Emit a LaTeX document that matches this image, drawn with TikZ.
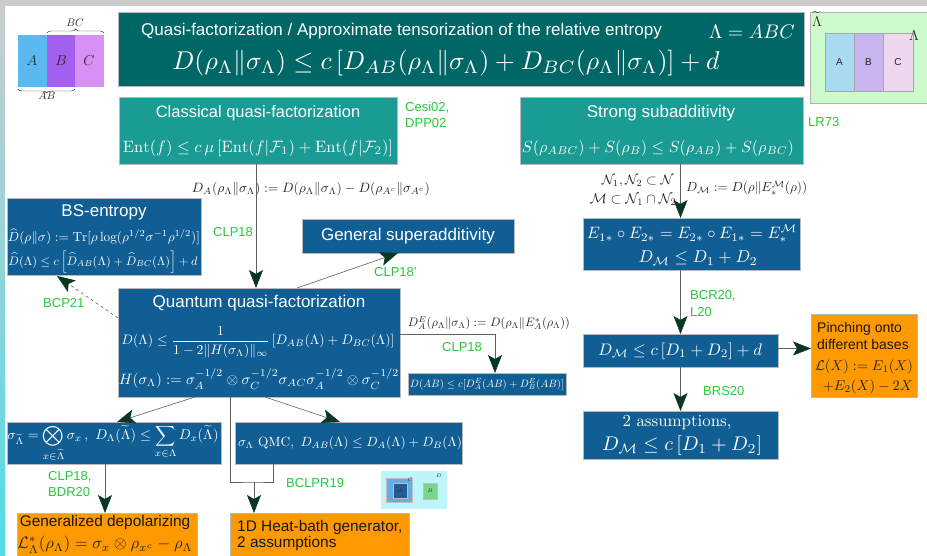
\documentclass[tikz,border=0pt]{standalone}
\usepackage{amsmath,amssymb}
\usepackage{fontspec}
\setsansfont{Liberation Sans}
\usepackage{graphicx}
\usetikzlibrary{arrows.meta,decorations.pathreplacing,calc}
\definecolor{titleteal}{RGB}{0,102,102}
\definecolor{tealtwo}{RGB}{26,156,148}
\definecolor{dblue}{RGB}{16,94,148}
\definecolor{orng}{RGB}{255,153,0}
\definecolor{lgreen}{RGB}{40,200,60}
\definecolor{ahead}{RGB}{10,55,35}
\definecolor{lnc}{RGB}{95,95,95}
\definecolor{iconA}{RGB}{90,186,240}
\definecolor{iconB}{RGB}{165,95,240}
\definecolor{iconC}{RGB}{215,145,245}
\definecolor{grbg}{RGB}{204,250,204}
\definecolor{gA}{RGB}{170,218,240}
\definecolor{gB}{RGB}{200,180,238}
\definecolor{gC}{RGB}{238,216,240}
\definecolor{framecyan}{RGB}{80,220,230}
\definecolor{smcyan}{RGB}{190,245,250}
\definecolor{smblue}{RGB}{100,175,225}
\definecolor{smdark}{RGB}{40,90,150}
\definecolor{smgreen}{RGB}{120,215,140}
\newcommand{\fw}[2]{\resizebox{#1pt}{!}{#2}}
\newcommand{\mkbox}[6]{\node[#1, minimum width={(#4)-(#2)}, minimum height={(#5)-(#3)}] (#6) at ({((#2)+(#4))/2},{((#3)+(#5))/2}) {};}
\tikzset{
  boxbase/.style={rectangle, inner sep=0pt, outer sep=0pt, draw=gray!55, line width=0.5pt},
  tealdark/.style={boxbase, fill=titleteal},
  tealbox/.style={boxbase, fill=tealtwo},
  bluebox/.style={boxbase, fill=dblue},
  orbox/.style={boxbase, fill=orng},
  wtxt/.style={text=white, inner sep=0pt, font=\sffamily\fontsize{17}{20}\selectfont},
  mtxt/.style={text=white, inner sep=0pt},
  btxt/.style={text=black!85, inner sep=0pt},
  otxt/.style={text=black!90, inner sep=0pt, font=\sffamily\fontsize{15.4}{18}\selectfont},
  gtxt/.style={text=lgreen, inner sep=0pt, anchor=west, font=\sffamily\fontsize{13}{15}\selectfont},
  conn/.style={draw=lnc, line width=0.6pt},
  arr/.style={conn, -{Stealth[length=18pt,width=14pt,inset=4pt,color=ahead]}},
}
\begin{document}
\begin{tikzpicture}[x=1pt,y=-1pt]
\useasboundingbox (0,0) rectangle (927,556);
\begin{scope}
\clip (0,0) rectangle (927,556);
% frame
\fill[white] (0,0) rectangle (927,556);
\fill[gray!40] (0,0) rectangle (927,6);
\shade[top color=gray!40, bottom color=framecyan] (0,0) rectangle (5,556);

% top-left icon
\fill[iconA] (18,35) rectangle (47,87);
\fill[iconB] (47,35) rectangle (75,87);
\fill[iconC] (75,35) rectangle (104,87);
\node[btxt, font=\fontsize{14}{16}\selectfont] (la) at (32,61) {$A$};
\node[btxt, font=\fontsize{14}{16}\selectfont] (lb) at (61,61) {$B$};
\node[btxt, font=\fontsize{14}{16}\selectfont] (lc) at (89,61) {$C$};
\draw[black!80, decorate, decoration={brace, amplitude=4pt}] (47,33) -- (104,33);
\draw[black!80, decorate, decoration={brace, amplitude=4pt}] (75,89) -- (18,89);
\node[btxt, font=\fontsize{11}{13}\selectfont] (lbc) at (75,23) {$BC$};
\node[btxt, font=\fontsize{11}{13}\selectfont] (lab) at (47,96) {$AB$};

% top-right icon
\fill[grbg] (810,12) rectangle (927,103);
\draw[gray!60, line width=0.4pt] (810,12) rectangle (927,103);
\filldraw[fill=gA, draw=gray!70, line width=0.4pt] (825,33) rectangle (854,91);
\filldraw[fill=gB, draw=gray!70, line width=0.4pt] (854,33) rectangle (883,91);
\filldraw[fill=gC, draw=gray!70, line width=0.4pt] (883,33) rectangle (913,91);
\node[btxt, font=\sffamily\fontsize{10}{12}\selectfont] (ga) at (839.5,62) {A};
\node[btxt, font=\sffamily\fontsize{10}{12}\selectfont] (gb) at (868.5,62) {B};
\node[btxt, font=\sffamily\fontsize{10}{12}\selectfont] (gc) at (898,62) {C};
\node[btxt, font=\fontsize{15}{17}\selectfont] (glt) at (817,19) {$\widetilde\Lambda$};
\node[btxt, font=\fontsize{14}{16}\selectfont] (gl) at (914,36) {$\Lambda$};

% boxes
\mkbox{tealdark}{118}{12}{804}{86}{title}
\mkbox{tealbox}{119}{97}{397}{164}{cq}
\mkbox{tealbox}{520}{97}{803}{164}{ss}
\mkbox{bluebox}{7}{198}{201}{275}{bs}
\mkbox{bluebox}{302}{219}{514}{253}{gs}
\mkbox{bluebox}{583}{218}{800}{270}{eb}
\mkbox{bluebox}{118}{288}{400}{397}{qq}
\mkbox{bluebox}{408}{373}{566}{395}{dab}
\mkbox{bluebox}{583}{334}{778}{367}{dm}
\mkbox{orbox}{811}{314}{917}{397}{pin}
\mkbox{bluebox}{583}{411}{778}{459}{two}
\mkbox{bluebox}{7}{422}{221}{464}{sg}
\mkbox{bluebox}{235}{422}{462}{464}{qmc}
\mkbox{orbox}{17}{513}{197}{560}{gd}
\mkbox{orbox}{230}{513}{409}{560}{hb}

% title texts
\node[wtxt, anchor=west] (t1) at (141,31) {Quasi-factorization / Approximate tensorization of the relative entropy};
\node[mtxt, anchor=east] (t2) at (795,32) {\fw{86}{$\Lambda=ABC$}};
\node[mtxt] (t3) at (446,63) {\fw{547}{$D(\rho_\Lambda\|\sigma_\Lambda)\le c\,[D_{AB}(\rho_\Lambda\|\sigma_\Lambda)+D_{BC}(\rho_\Lambda\|\sigma_\Lambda)]+d$}};

% classical
\node[wtxt, font=\sffamily\fontsize{16.5}{19}\selectfont] (cq1) at (258,113) {Classical quasi-factorization};
\node[mtxt] (cq2) at (258,148) {\fw{270}{$\mathrm{Ent}(f)\le c\,\mu\,[\mathrm{Ent}(f|\mathcal F_1)+\mathrm{Ent}(f|\mathcal F_2)]$}};
\node[gtxt] (cite1) at (405,108) {Cesi02,};
\node[gtxt] (cite2) at (405,123) {DPP02};

% strong subadditivity
\node[wtxt] (ss1) at (661,113) {Strong subadditivity};
\node[mtxt] (ss2) at (658,148) {\fw{272}{$S(\rho_{ABC})+S(\rho_B)\le S(\rho_{AB})+S(\rho_{BC})$}};
\node[gtxt] (cite3) at (808,122) {LR73};

% labels under top boxes
\node[btxt] (dadef) at (311,189) {\fw{238}{$D_A(\rho_\Lambda\|\sigma_\Lambda):=D(\rho_\Lambda\|\sigma_\Lambda)-D(\rho_{A^c}\|\sigma_{A^c})$}};
\node[btxt, anchor=east] (nn1) at (674,181) {\fw{72}{$\mathcal N_1,\mathcal N_2\subset\mathcal N$}};
\node[btxt, anchor=east] (nn2) at (677,200) {\fw{87}{$\mathcal M\subset\mathcal N_1\cap\mathcal N_2$}};
\node[btxt, anchor=west] (dmdef) at (686,188) {\fw{121}{$D_{\mathcal M}:=D(\rho\|E_*^{\mathcal M}(\rho))$}};

% BS entropy
\node[wtxt] (bs1) at (104,212) {BS-entropy};
\node[mtxt] (bs2) at (104,237) {\fw{192}{$\widehat D(\rho\|\sigma):=\mathrm{Tr}[\rho\log(\rho^{1/2}\sigma^{-1}\rho^{1/2})]$}};
\node[mtxt] (bs3) at (103,262) {\fw{189}{$\widehat D(\Lambda)\le c\left[\widehat D_{AB}(\Lambda)+\widehat D_{BC}(\Lambda)\right]+d$}};
\node[gtxt] (cite4) at (213,232) {CLP18};

% general superadditivity
\node[wtxt] (gs1) at (408,236) {General superadditivity};
\node[gtxt] (cite5) at (374,272) {CLP18'};
\node[gtxt] (cite6) at (43,303) {BCP21};

% quantum
\node[wtxt] (qq1) at (259,303) {Quantum quasi-factorization};
\node[mtxt] (qq2) at (258,342) {\fw{273}{$D(\Lambda)\le\dfrac{1}{1-2\|H(\sigma_\Lambda)\|_\infty}\,[D_{AB}(\Lambda)+D_{BC}(\Lambda)]$}};
\node[mtxt] (qq3) at (259,379) {\fw{280}{$H(\sigma_\Lambda):=\sigma_A^{-1/2}\otimes\sigma_C^{-1/2}\sigma_{AC}\sigma_A^{-1/2}\otimes\sigma_C^{-1/2}$}};

% DE
\node[btxt] (dedef) at (489,323) {\fw{162}{$D_A^E(\rho_\Lambda\|\sigma_\Lambda):=D(\rho_\Lambda\|E_A^*(\rho_\Lambda))$}};
\node[gtxt] (cite7) at (442,347) {CLP18};
\node[mtxt] (dab1) at (487,384) {\fw{154}{$D(AB)\le c[D_A^E(AB)+D_B^E(AB)]$}};

% E box
\node[mtxt] (eb1) at (692,234) {\fw{210}{$E_{1*}\circ E_{2*}=E_{2*}\circ E_{1*}=E_*^{\mathcal M}$}};
\node[mtxt] (eb2) at (698,258) {\fw{119}{$D_{\mathcal M}\le D_1+D_2$}};
\node[gtxt] (cite8) at (690,296) {BCR20,};
\node[gtxt] (cite9) at (690,312) {L20};
\node[mtxt] (dm1) at (680,351) {\fw{164}{$D_{\mathcal M}\le c\,[D_1+D_2]+d$}};
\node[gtxt] (cite10) at (703,391) {BRS20};
\node[mtxt] (two1) at (677,423) {\fw{109}{\textrm{2 assumptions,}}};
\node[mtxt] (two2) at (682,446) {\fw{160}{$D_{\mathcal M}\le c\,[D_1+D_2]$}};

% pinching
\node[otxt, anchor=west, font=\sffamily\fontsize{14}{16}\selectfont] (pin1) at (817,329) {Pinching onto};
\node[otxt, anchor=west, font=\sffamily\fontsize{14}{16}\selectfont] (pin2) at (817,344) {different bases};
\node[btxt] (pin3) at (864,367) {\fw{98}{$\mathcal L(X):=E_1(X)$}};
\node[btxt, anchor=east] (pin4) at (913,387) {\fw{90}{$+E_2(X)-2X$}};

% bottom row
\node[mtxt] (sg1) at (113,443) {\fw{211}{$\sigma_{\widetilde\Lambda}=\displaystyle\bigotimes_{x\in\widetilde\Lambda}\sigma_x\,,\ D_\Lambda(\widetilde\Lambda)\le\sum_{x\in\Lambda}D_x(\widetilde\Lambda)$}};
\node[mtxt] (qmc1) at (350,443) {\fw{224}{$\sigma_\Lambda\ \mathrm{QMC},\ D_{AB}(\Lambda)\le D_A(\Lambda)+D_B(\Lambda)$}};
\node[gtxt] (cite11) at (48,477) {CLP18,};
\node[gtxt] (cite12) at (48,492) {BDR20};
\node[gtxt] (cite13) at (286,483) {BCLPR19};
\node[otxt] (gd1) at (105,523) {Generalized depolarizing};
\node[btxt] (gd2) at (105,545) {\fw{175}{$\mathcal L_\Lambda^*(\rho_\Lambda)=\sigma_x\otimes\rho_{x^c}-\rho_\Lambda$}};
\node[otxt, anchor=west] (hb1) at (237,528) {1D Heat-bath generator,};
\node[otxt, anchor=west] (hb2) at (237,544) {2 assumptions};

% small icon
\fill[smcyan] (381,471) rectangle (447,509);
\filldraw[fill=smblue, draw=gray!50, line width=0.3pt] (386,478) rectangle (412,502);
\filldraw[fill=smdark, draw=gray!50, line width=0.3pt] (393,483) rectangle (407,498);
\filldraw[fill=smgreen, draw=gray!50, line width=0.3pt] (423,483) rectangle (437,499);
\node[btxt, font=\fontsize{4}{5}\selectfont] (ia) at (400,490.5) {$A$};
\node[btxt, font=\fontsize{4}{5}\selectfont] (ib) at (430,491) {$B$};
\node[btxt, font=\fontsize{4}{5}\selectfont] (ic) at (410,480) {$C$};
\node[btxt, font=\fontsize{4}{5}\selectfont] (id) at (439,476) {$D$};

% connectors
\draw[arr] ($(cq.south)+(-2,0)$) -- ($(cq.south |- qq.north)+(-2,0)$);
\draw[arr] ($(qq.north west)+(179,0)$) -- ($(gs.south west)+(96,0)$);
\draw[arr, dashed] ($(qq.north west)+(0,30)$) -- ($(bs.south west)+(50,1)$);
\draw[arr] ($(qq.east)+(0,-8.5)$) -- ($(dab.north)+(8,-39)$) -- ($(dab.north)+(8,0)$);
\draw[arr] (dm.north |- ss.south) -- (dm.north |- eb.north);
\draw[arr] (dm.north |- eb.south) -- (dm.north);
\draw[arr] (dm.south) -- (two.north);
\draw[arr] ($(dm.east)+(0,-2)$) -- ($(dm.east -| pin.west)+(0,-2)$);
\draw[arr] ($(qq.south west)+(77,0)$) -- ($(sg.north west)+(110,0)$);
\draw[arr] ($(qq.south west)+(147,0)$) -- ($(qmc.north west)+(105,0)$);
\coordinate (hjoin) at (254,482);
\draw[conn] ($(qq.south west)+(112,0)$) |- (hjoin) -| ($(qmc.south west)+(38,0)$);
\draw[arr] (hjoin) -- (hjoin |- hb.north);
\draw[arr] ($(sg.south west)+(98,0)$) -- ($(gd.north west)+(88,0)$);
\end{scope}
\end{tikzpicture}
\end{document}
